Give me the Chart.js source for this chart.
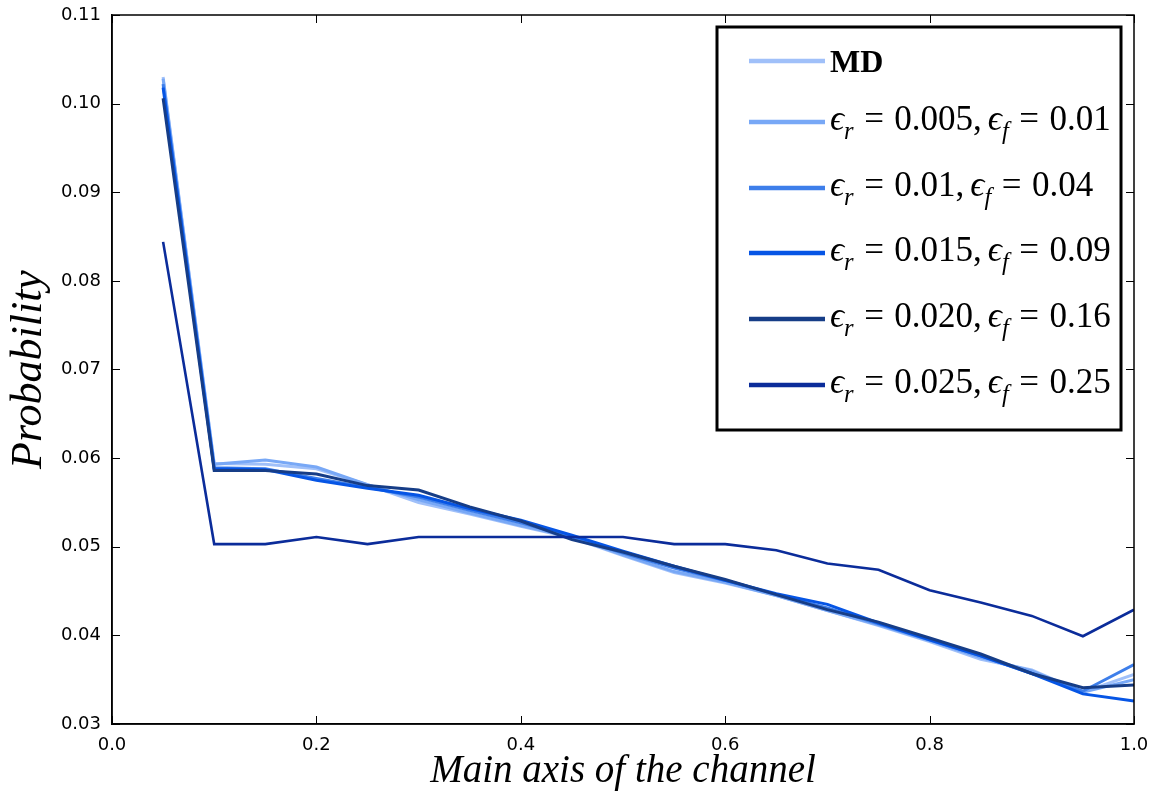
<!DOCTYPE html>
<html>
<head>
<meta charset="utf-8">
<script src="https://cdn.jsdelivr.net/npm/chart.js@4/dist/chart.umd.min.js"></script>
<style>
html,body{margin:0;padding:0;background:#fff;}
#wrap{width:1154px;height:794px;position:relative;}
</style>
</head>
<body>
<div id="wrap"><canvas id="c" width="1154" height="794"></canvas></div>
<script>
// ---- data ----
const xPositions = [0.05,0.10,0.15,0.20,0.25,0.30,0.35,0.40,0.45,0.50,0.55,0.60,0.65,0.70,0.75,0.80,0.85,0.90,0.95,1.00];
const seriesMD   = [0.1030,0.0594,0.0593,0.0588,0.0570,0.0550,0.0537,0.0523,0.0510,0.0490,0.0471,0.0459,0.0445,0.0428,0.0411,0.0393,0.0373,0.0361,0.0336,0.0356];
const series005  = [0.1028,0.0593,0.0598,0.0590,0.0570,0.0553,0.0538,0.0524,0.0511,0.0491,0.0472,0.0460,0.0445,0.0428,0.0412,0.0394,0.0375,0.0360,0.0336,0.0350];
const series010  = [0.1022,0.0589,0.0588,0.0577,0.0567,0.0556,0.0541,0.0527,0.0511,0.0493,0.0476,0.0462,0.0446,0.0431,0.0413,0.0395,0.0377,0.0357,0.0337,0.0367];
const series015  = [0.1018,0.0588,0.0587,0.0575,0.0566,0.0558,0.0543,0.0530,0.0513,0.0495,0.0478,0.0462,0.0447,0.0435,0.0414,0.0395,0.0377,0.0357,0.0334,0.0326];
const series020  = [0.1006,0.0586,0.0586,0.0582,0.0569,0.0564,0.0545,0.0529,0.0508,0.0494,0.0478,0.0463,0.0446,0.0429,0.0415,0.0397,0.0379,0.0357,0.0341,0.0344];
const series025  = [0.0844,0.0503,0.0503,0.0511,0.0503,0.0511,0.0511,0.0511,0.0511,0.0511,0.0503,0.0503,0.0496,0.0481,0.0474,0.0451,0.0437,0.0422,0.0399,0.0429];
const epsR = ['0.005','0.01','0.015','0.020','0.025'];
const epsF = ['0.01','0.04','0.09','0.16','0.25'];
const xTicks = [0,0.2,0.4,0.6,0.8,1.0];
const yTicks = [0.03,0.04,0.05,0.06,0.07,0.08,0.09,0.10,0.11];
const xTitle = 'Main axis of the channel';
const yTitle = 'Probability';
const mdLabel = 'MD';

// ---- styles ----
const colors = ['#a0c0f9','#78a8f6','#3d7eea','#0655e5','#163d87','#0b2c9a'];
const allSeries = [seriesMD, series005, series010, series015, series020, series025];
const labels = [mdLabel].concat(epsR.map((r,i)=>'ϵr = '+r+', ϵf = '+epsF[i]));

const datasets = allSeries.map((s,i)=>({
  label: labels[i],
  data: s.map((v,j)=>({x:xPositions[j], y:v})),
  borderColor: colors[i],
  backgroundColor: colors[i],
  borderWidth: i===5 ? 2.6 : 3,
  pointRadius: 0,
  tension: 0,
  fill: false,
  order: -i
}));

const SERIF = "'Liberation Serif','DejaVu Serif',serif";

function drawMath(ctx, x, y, r, f, size){
  const g = size*0.3, gc = size*0.17;
  const parts = [
    {t:'ϵ', it:true}, {t:'r', it:true, sub:true, gap:g}, {t:'=', gap:g}, {t:r}, {t:',', gap:gc},
    {t:'ϵ', it:true}, {t:'f', it:true, sub:true, gap:g}, {t:'=', gap:g}, {t:f}
  ];
  let cx = x;
  ctx.textBaseline = 'alphabetic';
  for(const p of parts){
    const sz = p.sub ? size*0.7 : size;
    ctx.font = (p.it?'italic ':'') + sz + 'px ' + SERIF;
    ctx.fillText(p.t, cx, y + (p.sub ? size*0.26 : 0));
    cx += ctx.measureText(p.t).width + (p.gap||0);
  }
}

const framePlugin = {
  id:'frame',
  afterDraw(chart){
    const ctx = chart.ctx, a = chart.chartArea;
    const xs = chart.scales.x, ys = chart.scales.y;
    ctx.save();
    // frame
    ctx.strokeStyle = '#000'; ctx.lineWidth = 1.5;
    ctx.strokeRect(a.left, a.top, a.right-a.left, a.bottom-a.top);
    // inward ticks on all sides
    ctx.lineWidth = 1;
    xTicks.forEach(v=>{
      const px = Math.round(xs.getPixelForValue(v))+0.5;
      ctx.beginPath(); ctx.moveTo(px,a.bottom); ctx.lineTo(px,a.bottom-8);
      ctx.moveTo(px,a.top); ctx.lineTo(px,a.top+8); ctx.stroke();
    });
    yTicks.forEach(v=>{
      const py = Math.round(ys.getPixelForValue(v))+0.5;
      ctx.beginPath(); ctx.moveTo(a.left,py); ctx.lineTo(a.left+8,py);
      ctx.moveTo(a.right,py); ctx.lineTo(a.right-8,py); ctx.stroke();
    });
    // axis titles
    ctx.fillStyle = '#000';
    ctx.font = 'italic 39px ' + SERIF;
    ctx.textAlign = 'center'; ctx.textBaseline = 'middle';
    ctx.fillText(xTitle, (a.left+a.right)/2, 772);
    ctx.save();
    ctx.translate(29, (a.top+a.bottom)/2);
    ctx.rotate(-Math.PI/2);
    ctx.font = 'italic 44px ' + SERIF;
    ctx.fillText(yTitle, 0, 0);
    ctx.restore();
    // legend
    const lx = 717, ly = 27, lw = 404, lh = 403;
    ctx.fillStyle = '#fff';
    ctx.fillRect(lx, ly, lw, lh);
    ctx.strokeStyle = '#000'; ctx.lineWidth = 3;
    ctx.strokeRect(lx, ly, lw, lh);
    const rowY = [61,122,188,253,319,385];
    datasets.forEach((d,i)=>{
      const y = rowY[i];
      ctx.strokeStyle = d.borderColor; ctx.lineWidth = 4.5;
      ctx.beginPath(); ctx.moveTo(749, y); ctx.lineTo(825, y); ctx.stroke();
      ctx.fillStyle = '#000'; ctx.textAlign = 'left';
      if(i===0){
        ctx.font = 'bold 32px ' + SERIF; ctx.textBaseline = 'alphabetic';
        ctx.fillText(mdLabel, 830, y+11);
      } else {
        drawMath(ctx, 830, y+8, epsR[i-1], epsF[i-1], 35);
      }
    });
    ctx.restore();
  }
};

new Chart(document.getElementById('c'), {
  type:'line',
  data:{ datasets },
  options:{
    responsive:false,
    animation:false,
    devicePixelRatio:1,
    layout:{ padding:{ left:0, right:20, top:15, bottom:0 } },
    plugins:{ legend:{display:false}, tooltip:{enabled:false} },
    scales:{
      x:{
        type:'linear', min:0, max:1,
        afterBuildTicks(s){ s.ticks = xTicks.map(v=>({value:v})); },
        afterFit(s){ s.height = 70; },
        ticks:{ callback:v=>Number(v).toFixed(1), color:'#000', font:{family:"'DejaVu Sans'", size:18}, padding:3, maxRotation:0, autoSkip:false },
        grid:{ display:false },
        border:{ display:true, color:'#000', width:1.5 }
      },
      y:{
        type:'linear', min:0.03, max:0.11,
        afterBuildTicks(s){ s.ticks = yTicks.map(v=>({value:v})); },
        afterFit(s){ s.width = 112; },
        ticks:{ callback:v=>Number(v).toFixed(2), color:'#000', font:{family:"'DejaVu Sans'", size:18}, padding:3, autoSkip:false },
        grid:{ display:false },
        border:{ display:true, color:'#000', width:1.5 }
      }
    }
  },
  plugins:[framePlugin]
});
</script>
</body>
</html>
